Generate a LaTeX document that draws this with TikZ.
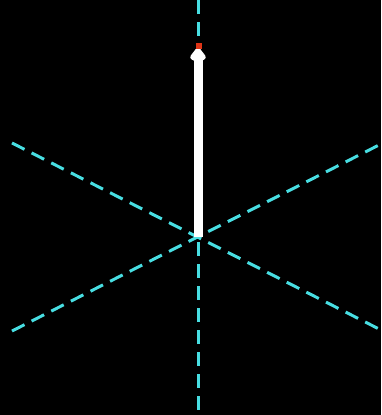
\documentclass[tikz,border=0pt]{standalone}
\usepackage{xcolor}
\usepackage{tikz}
\usetikzlibrary{arrows.meta,calc}
\definecolor{axiscol}{RGB}{72,222,226}
\definecolor{tipcol}{RGB}{222,52,22}
\definecolor{bgcol}{RGB}{0,0,0}

\begin{document}
\begin{tikzpicture}[
                x=1pt, y=-1pt,
                axis/.style={draw=axiscol, line width=3pt, dash pattern=on 14pt off 8pt},
                vector/.style={draw=white, line width=9pt},
                vhead/.style={fill=white, draw=white, line width=1pt, rounded corners=3pt},
                tipdot/.style={fill=tipcol, inner sep=0pt, minimum size=6.5pt, rectangle}
                ]
                % background fixes the picture size
                \fill[bgcol] (0,0) rectangle (381,415);
                \useasboundingbox (0,0) rectangle (381,415);

                \coordinate (origin) at (198,237);
                \coordinate (ztop) at (198,0);
                \coordinate (zbot) at (198,415);
                \coordinate (xneg) at (12,143);
                \coordinate (xpos) at (381,330);
                \coordinate (yneg) at (12,331);
                \coordinate (ypos) at (381,144);
                \coordinate (vend) at (198,60);

                % axes
                \draw[axis] (ztop) -- (zbot);
                \draw[axis] (xneg) -- (xpos);
                \draw[axis] (yneg) -- (ypos);

                % vector with marked tip
                \draw[vector] (origin) -- (vend);
                \filldraw[vhead] (198,47) -- (206.5,58) -- (198,62) -- (189.5,58) -- cycle;
                \node[tipdot] (tip) at (199,46) {};
            \end{tikzpicture}
\end{document}
